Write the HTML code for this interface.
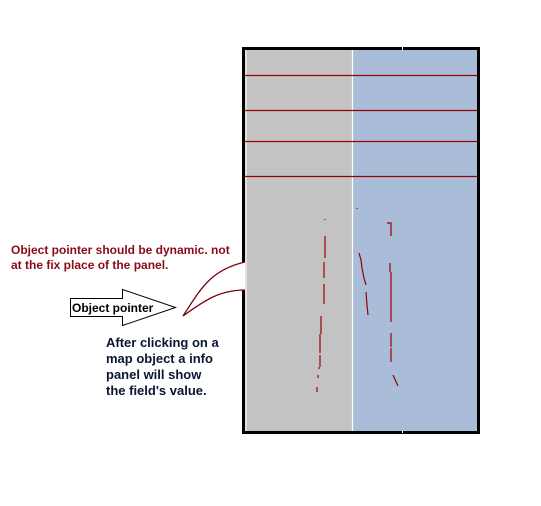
<!DOCTYPE html>
<html><head><meta charset="utf-8"><style>
html,body{margin:0;padding:0;background:#fff;width:541px;height:506px;overflow:hidden}
svg{display:block}
text{font-family:"Liberation Sans",Arial,sans-serif;font-weight:bold}
</style></head><body>
<svg width="541" height="506" viewBox="0 0 541 506">
<g>
<rect x="245" y="50" width="107" height="382" fill="#c3c3c3"/>
<rect x="353" y="50" width="124" height="382" fill="#aabdd8"/>
<line x1="246" y1="50" x2="246" y2="432" stroke="#fff" stroke-width="1"/>
<line x1="352.5" y1="50" x2="352.5" y2="432" stroke="#fff" stroke-width="1.2"/>
<g stroke="#990000" stroke-width="1.3">
<line x1="243" y1="75.5" x2="480" y2="75.5"/>
<line x1="243" y1="110.5" x2="480" y2="110.5"/>
<line x1="243" y1="141.5" x2="480" y2="141.5"/>
<line x1="243" y1="176.5" x2="480" y2="176.5"/>
</g>
<g fill="#000">
<rect x="242" y="47" width="238" height="3"/>
<rect x="242" y="431" width="238" height="3"/>
<rect x="242" y="47" width="3" height="215"/>
<rect x="242" y="290" width="3" height="144"/>
<rect x="477" y="47" width="3" height="387"/>
</g>
<rect x="402" y="47" width="1" height="3" fill="#fff"/>
<rect x="402" y="431" width="1" height="2" fill="#fff"/>
<g stroke="#990000" stroke-width="1.2" fill="none">
<path d="M325 219v1M325 236v22M324 262v16M324 284v20M321 316v18M320 334v19M320 355v12M319 367v2M318 375v3M317 387v5"/>
<path d="M357 208v1M387 223h4v13M359 253l2 7 1 8 2 10 2 7M366 292l1 13 1 10M390 263v9M391 272v50M391 333v14M391 348v14M393 375l5 11"/>
</g>
</g>
<g stroke="#800010" stroke-width="1.3" fill="none">
<path d="M183 316 C200 290 210 270 245 262"/>
<path d="M183 316 C205 300 220 290 245 290"/>
</g>
<text x="11" y="254" font-size="12" fill="#8b0a1a">Object pointer should be dynamic. not</text>
<text x="11" y="269" font-size="12" fill="#8b0a1a">at the fix place of the panel.</text>
<g>
<path d="M70.5 298.5 H122.5 V289.5 L175.5 307.5 L122.5 325.5 V316.5 H70.5 Z" fill="#fff" stroke="#000" stroke-width="1"/>
<text x="72" y="312" font-size="12" fill="#000" font-weight="bold">Object pointer</text>
</g>
<g font-size="13" fill="#0a1530">
<text x="106" y="347">After clicking on a</text>
<text x="106" y="363">map object a info</text>
<text x="106" y="379">panel will show</text>
<text x="106" y="395">the field's value.</text>
</g>
</svg>
</body></html>
